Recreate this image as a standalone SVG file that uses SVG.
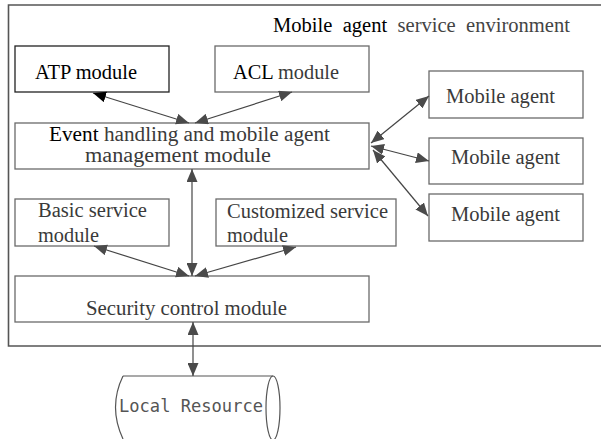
<svg xmlns="http://www.w3.org/2000/svg" width="601" height="439" viewBox="0 0 601 439">
  <defs>
    <marker id="arrow" viewBox="0 0 13 11" refX="13" refY="5.5" markerWidth="13" markerHeight="11" markerUnits="userSpaceOnUse" orient="auto-start-reverse">
      <path d="M0,0 L13,5.5 L0,11 Z" fill="#4a4a4a"/>
    </marker>
    <marker id="arrow-dark" viewBox="0 0 13 11" refX="13" refY="5.5" markerWidth="13" markerHeight="11" markerUnits="userSpaceOnUse" orient="auto-start-reverse">
      <path d="M0,0 L13,5.5 L0,11 Z" fill="#000"/>
    </marker>
  </defs>
  <style>
    .box { fill: #fff; stroke: #6a6a6a; stroke-width: 1.3; }
    .box-dark { fill: #fff; stroke: #222; stroke-width: 1.3; }
    .frame { fill: none; stroke: #555; stroke-width: 1.6; }
    .lbl { font-family: "Liberation Serif", "Times New Roman", serif; font-size: 20px; fill: #3a3a3a; }
    .dark { fill: #000; }
    .conn { stroke: #454545; stroke-width: 1.2; fill: none; marker-start: url(#arrow); marker-end: url(#arrow); }
    .mono { font-family: "DejaVu Sans Mono", "Liberation Mono", monospace; font-size: 17px; fill: #555; }
  </style>

  <rect width="601" height="439" fill="#fff"/>

  <!-- service environment frame (open on the right) -->
  <g id="environment">
    <path class="frame" d="M602,5 H8.5 V346 H602"/>
    <text class="lbl dark" x="273" y="32" textLength="297" lengthAdjust="spacingAndGlyphs" style="word-spacing:5px">Mobile agent <tspan fill="#444">service environment</tspan></text>
  </g>

  <g id="atp">
    <rect class="box-dark" x="15" y="46" width="154" height="46"/>
    <text class="lbl dark" x="35" y="79" textLength="102" lengthAdjust="spacingAndGlyphs">ATP module</text>
  </g>

  <g id="acl">
    <rect class="box" x="215" y="46" width="154" height="46"/>
    <text class="lbl" x="233" y="79" textLength="106" lengthAdjust="spacingAndGlyphs"><tspan fill="#000">ACL</tspan> module</text>
  </g>

  <g id="event">
    <rect class="box" x="15" y="123" width="354" height="46"/>
    <text class="lbl" x="49" y="141" textLength="281" lengthAdjust="spacingAndGlyphs"><tspan fill="#000">Event</tspan> handling and mobile agent</text>
    <text class="lbl" x="85" y="162" textLength="186" lengthAdjust="spacingAndGlyphs">management module</text>
  </g>

  <g id="basic">
    <rect class="box" x="15" y="199" width="154" height="47"/>
    <text class="lbl" x="38" y="217" textLength="109" lengthAdjust="spacingAndGlyphs">Basic service</text>
    <text class="lbl" x="38" y="242" textLength="61" lengthAdjust="spacingAndGlyphs">module</text>
  </g>

  <g id="customized">
    <rect class="box" x="216" y="199" width="180" height="47"/>
    <text class="lbl" x="227" y="218" textLength="161" lengthAdjust="spacingAndGlyphs">Customized service</text>
    <text class="lbl" x="227" y="242" textLength="61" lengthAdjust="spacingAndGlyphs">module</text>
  </g>

  <g id="security">
    <rect class="box" x="15" y="276" width="354" height="46"/>
    <text class="lbl" x="86" y="315" textLength="201" lengthAdjust="spacingAndGlyphs">Security control module</text>
  </g>

  <g id="agent1">
    <rect class="box" x="429" y="71" width="154" height="47"/>
    <text class="lbl" x="446" y="103" textLength="109" lengthAdjust="spacingAndGlyphs">Mobile agent</text>
  </g>

  <g id="agent2">
    <rect class="box" x="429" y="138" width="154" height="46"/>
    <text class="lbl" x="451" y="164" textLength="109" lengthAdjust="spacingAndGlyphs">Mobile agent</text>
  </g>

  <g id="agent3">
    <rect class="box" x="429" y="194" width="154" height="47"/>
    <text class="lbl" x="451" y="221" textLength="109" lengthAdjust="spacingAndGlyphs">Mobile agent</text>
  </g>

  <!-- local resource drawn as a horizontal cylinder -->
  <g id="local-resource">
    <path d="M123,376 H273 M123,376 Q108,407 123,439" fill="none" stroke="#555" stroke-width="1.2"/>
    <ellipse cx="273" cy="408" rx="7" ry="32" fill="none" stroke="#555" stroke-width="1.2"/>
    <text class="mono" x="119" y="412" textLength="144" lengthAdjust="spacingAndGlyphs">Local Resource</text>
  </g>

  <g id="connectors">
    <line class="conn" x1="93" y1="93" x2="189" y2="123" style="marker-start:url(#arrow-dark)" stroke="#111"/>
    <line class="conn" x1="292" y1="92" x2="195" y2="123"/>
    <line class="conn" x1="192" y1="169" x2="192" y2="276"/>
    <line class="conn" x1="94" y1="246" x2="189" y2="276"/>
    <line class="conn" x1="296" y1="247" x2="195" y2="276"/>
    <line class="conn" x1="371" y1="143" x2="429" y2="96"/>
    <line class="conn" x1="371" y1="146" x2="429" y2="161"/>
    <line class="conn" x1="373" y1="150" x2="428" y2="216"/>
    <line class="conn" x1="193" y1="322" x2="193" y2="376"/>
  </g>
</svg>
